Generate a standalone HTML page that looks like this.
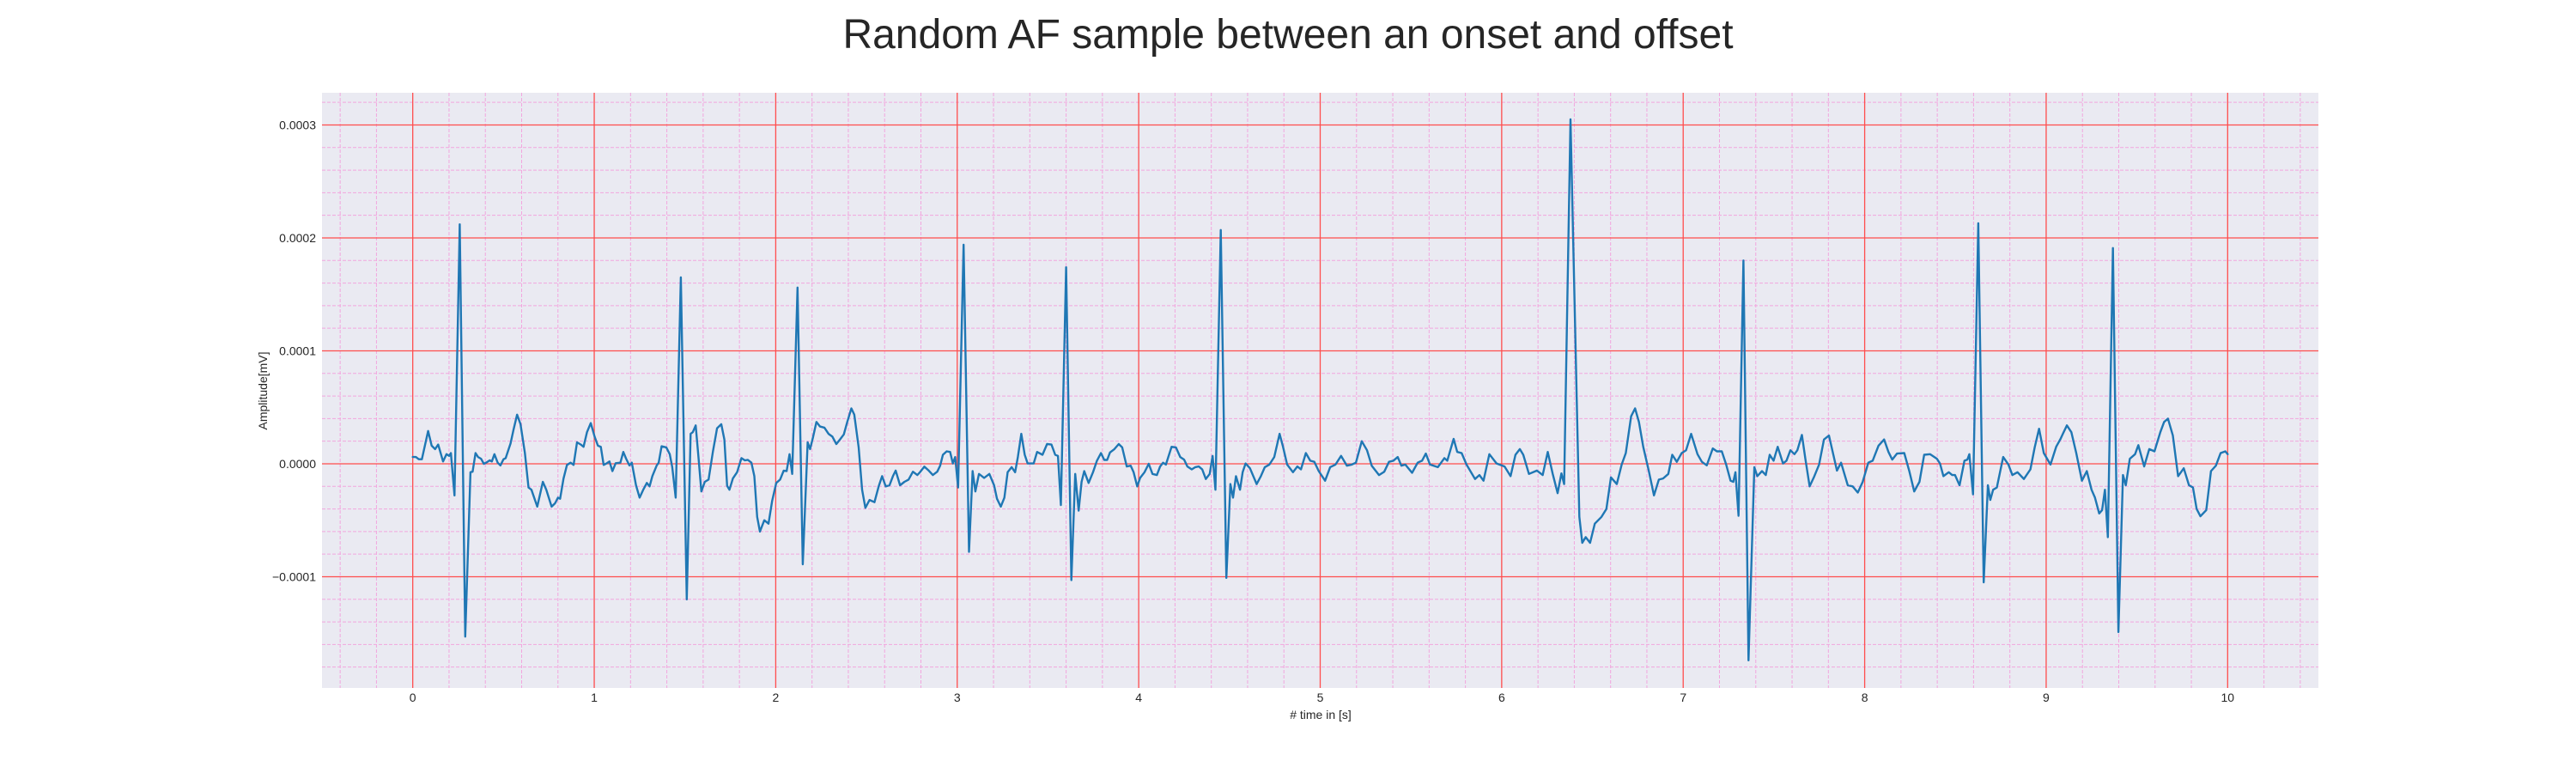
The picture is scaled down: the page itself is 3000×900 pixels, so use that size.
<!DOCTYPE html>
<html>
<head>
<meta charset="utf-8">
<style>
html,body{margin:0;padding:0;background:#fff;}
svg{display:block;font-family:"Liberation Sans",Arial,sans-serif;}
</style>
</head>
<body>
<svg id="chart" width="3000" height="900" viewBox="0 0 3000 900" xmlns="http://www.w3.org/2000/svg">
  <rect x="0" y="0" width="3000" height="900" fill="#ffffff"/>
  <text x="1500" y="56" text-anchor="middle" font-size="48" fill="#262626">Random AF sample between an onset and offset</text>
  <rect x="375" y="108" width="2325" height="693" fill="#eaeaf2"/>
  <g id="minor-grid"></g>
  <g id="major-grid"></g>
  <g id="series"></g>
  <g id="x-ticks"></g>
  <g id="y-ticks"></g>
  <text x="1538" y="837" text-anchor="middle" font-size="14" fill="#262626"># time in [s]</text>
  <text x="0" y="0" transform="translate(311,455) rotate(-90)" text-anchor="middle" font-size="14" fill="#262626">Amplitude[mV]</text>
</svg>
<script>
// Data: time in seconds, amplitude in units of 1e-4 mV
const timeSec = [0,0.017,0.033,0.05,0.085,0.104,0.123,0.14,0.167,0.186,0.2,0.21,0.23,0.259,0.289,0.318,0.33,0.346,0.36,0.376,0.392,0.404,0.424,0.436,0.45,0.468,0.483,0.5,0.512,0.539,0.555,0.575,0.594,0.618,0.638,0.654,0.686,0.717,0.736,0.765,0.784,0.8,0.812,0.831,0.85,0.87,0.886,0.905,0.926,0.941,0.96,0.981,1.002,1.02,1.036,1.052,1.07,1.084,1.1,1.118,1.144,1.16,1.176,1.194,1.207,1.23,1.25,1.27,1.29,1.305,1.32,1.344,1.355,1.371,1.397,1.416,1.43,1.449,1.477,1.51,1.531,1.543,1.559,1.575,1.59,1.609,1.63,1.654,1.677,1.7,1.717,1.732,1.745,1.764,1.787,1.811,1.83,1.846,1.866,1.882,1.898,1.913,1.937,1.96,1.98,2.003,2.024,2.044,2.06,2.076,2.091,2.12,2.149,2.176,2.189,2.205,2.224,2.244,2.268,2.291,2.312,2.334,2.354,2.375,2.394,2.417,2.433,2.457,2.476,2.494,2.517,2.544,2.567,2.586,2.606,2.627,2.646,2.661,2.685,2.709,2.732,2.756,2.78,2.795,2.819,2.843,2.866,2.89,2.906,2.921,2.942,2.961,2.976,2.989,3.005,3.035,3.065,3.085,3.1,3.12,3.148,3.177,3.203,3.219,3.24,3.26,3.278,3.3,3.319,3.334,3.353,3.372,3.388,3.421,3.44,3.47,3.495,3.519,3.54,3.555,3.571,3.6,3.629,3.65,3.669,3.685,3.7,3.724,3.748,3.77,3.792,3.81,3.826,3.842,3.866,3.89,3.909,3.934,3.956,3.972,3.992,4.008,4.032,4.055,4.076,4.1,4.118,4.134,4.15,4.181,4.205,4.229,4.25,4.268,4.292,4.312,4.331,4.35,4.37,4.391,4.407,4.423,4.452,4.483,4.505,4.52,4.536,4.558,4.573,4.589,4.613,4.65,4.673,4.695,4.72,4.747,4.776,4.795,4.818,4.85,4.874,4.894,4.921,4.945,4.968,4.992,5.027,5.055,5.084,5.115,5.147,5.174,5.197,5.229,5.258,5.284,5.324,5.353,5.379,5.403,5.427,5.447,5.469,5.506,5.537,5.561,5.582,5.605,5.648,5.684,5.7,5.735,5.755,5.779,5.806,5.853,5.877,5.9,5.932,5.972,6.016,6.049,6.076,6.1,6.119,6.15,6.194,6.226,6.254,6.281,6.308,6.329,6.344,6.379,6.428,6.444,6.463,6.487,6.513,6.55,6.577,6.602,6.634,6.661,6.684,6.713,6.735,6.756,6.78,6.81,6.839,6.866,6.889,6.918,6.94,6.965,6.992,7.016,7.044,7.079,7.103,7.13,7.163,7.186,7.213,7.237,7.261,7.276,7.288,7.305,7.332,7.36,7.392,7.408,7.434,7.455,7.477,7.498,7.521,7.55,7.569,7.591,7.613,7.629,7.654,7.673,7.697,7.72,7.749,7.776,7.803,7.823,7.847,7.87,7.907,7.934,7.962,7.989,8.02,8.044,8.076,8.107,8.131,8.152,8.178,8.218,8.245,8.273,8.302,8.328,8.36,8.398,8.415,8.434,8.463,8.482,8.498,8.523,8.55,8.566,8.577,8.597,8.626,8.656,8.679,8.692,8.708,8.728,8.763,8.792,8.814,8.842,8.877,8.913,8.937,8.961,8.987,9.024,9.055,9.079,9.092,9.114,9.139,9.166,9.197,9.224,9.25,9.269,9.292,9.308,9.324,9.34,9.368,9.398,9.423,9.439,9.461,9.49,9.508,9.54,9.568,9.597,9.629,9.65,9.671,9.698,9.727,9.758,9.787,9.809,9.829,9.85,9.882,9.908,9.935,9.961,9.987,10.0];
const ampE4 = [0.06,0.06,0.04,0.04,0.29,0.16,0.13,0.17,0.02,0.085,0.07,0.095,-0.28,2.12,-1.53,-0.075,-0.07,0.095,0.06,0.045,0,0.01,0.03,0.02,0.085,0.01,-0.015,0.04,0.05,0.18,0.3,0.435,0.35,0.095,-0.21,-0.23,-0.38,-0.16,-0.23,-0.38,-0.35,-0.3,-0.31,-0.13,-0.01,0.01,-0.01,0.19,0.17,0.15,0.28,0.36,0.24,0.16,0.15,-0.01,0.005,0.02,-0.065,0.005,0.01,0.105,0.045,-0.015,0.01,-0.19,-0.3,-0.23,-0.17,-0.2,-0.11,-0.015,0.01,0.155,0.145,0.085,-0.03,-0.3,1.65,-1.2,0.265,0.28,0.34,0.045,-0.245,-0.16,-0.14,0.11,0.315,0.35,0.215,-0.195,-0.23,-0.13,-0.075,0.05,0.03,0.035,0.01,-0.11,-0.47,-0.6,-0.5,-0.53,-0.33,-0.17,-0.14,-0.06,-0.065,0.085,-0.09,1.56,-0.89,0.19,0.13,0.23,0.37,0.33,0.32,0.265,0.24,0.175,0.215,0.26,0.37,0.49,0.435,0.145,-0.23,-0.39,-0.32,-0.34,-0.2,-0.11,-0.2,-0.19,-0.11,-0.06,-0.19,-0.16,-0.14,-0.07,-0.1,-0.075,-0.025,-0.06,-0.1,-0.07,-0.017,0.08,0.11,0.105,0.003,0.06,-0.21,1.94,-0.78,-0.065,-0.245,-0.09,-0.125,-0.09,-0.19,-0.31,-0.38,-0.3,-0.075,-0.03,-0.075,0.06,0.265,0.08,0.003,0.003,0.105,0.08,0.175,0.17,0.08,0.07,-0.365,1.74,-1.03,-0.09,-0.415,-0.16,-0.065,-0.17,-0.075,0.027,0.095,0.034,0.034,0.1,0.13,0.175,0.145,-0.024,-0.017,-0.075,-0.2,-0.125,-0.075,0,-0.09,-0.1,-0.024,0.01,-0.007,0.15,0.145,0.06,0.037,-0.024,-0.05,-0.03,-0.024,-0.05,-0.135,-0.09,0.07,-0.23,2.07,-1.01,-0.18,-0.3,-0.11,-0.23,-0.075,0.003,-0.04,-0.18,-0.11,-0.03,-0.007,0.06,0.265,0.15,-0.007,-0.075,-0.024,-0.05,0.095,0.027,0.017,-0.065,-0.15,-0.03,-0.007,0.07,-0.017,-0.007,0.01,0.2,0.12,-0.017,-0.1,-0.07,0.017,0.027,0.06,-0.017,-0.007,-0.08,0.01,0.027,0.09,-0.007,-0.03,0.05,0.027,0.22,0.105,0.095,-0.007,-0.135,-0.1,-0.15,0.085,0.003,-0.024,-0.11,0.08,0.13,0.08,-0.09,-0.06,-0.1,0.105,-0.09,-0.26,-0.085,-0.18,3.05,-0.47,-0.7,-0.65,-0.7,-0.53,-0.47,-0.4,-0.12,-0.18,-0.007,0.095,0.42,0.49,0.37,0.15,-0.06,-0.28,-0.14,-0.13,-0.09,0.08,0.017,0.095,0.12,0.265,0.085,0.017,-0.014,0.136,0.11,0.11,-0.007,-0.15,-0.16,-0.075,-0.46,1.8,-1.74,-0.03,-0.11,-0.065,-0.1,0.08,0.027,0.15,0.003,0.027,0.12,0.085,0.12,0.255,0.045,-0.2,-0.12,-0.007,0.215,0.25,0.11,-0.06,0.01,-0.19,-0.2,-0.255,-0.16,0.01,0.027,0.16,0.215,0.105,0.037,0.09,0.095,-0.06,-0.245,-0.16,0.08,0.085,0.045,0.003,-0.11,-0.075,-0.1,-0.1,-0.19,0.027,0.037,0.085,-0.27,2.13,-1.05,-0.19,-0.32,-0.23,-0.21,0.06,-0.007,-0.1,-0.075,-0.135,-0.05,0.145,0.31,0.095,-0.007,0.15,0.22,0.265,0.34,0.28,0.095,-0.15,-0.065,-0.23,-0.3,-0.44,-0.41,-0.23,-0.65,1.91,-1.49,-0.1,-0.19,0.045,0.085,0.165,-0.024,0.13,0.11,0.28,0.37,0.4,0.25,-0.11,-0.04,-0.19,-0.21,-0.4,-0.465,-0.41,-0.065,-0.017,0.095,0.11,0.085];
const xTickValues = [0,1,2,3,4,5,6,7,8,9,10];
const xTickLabels = ["0","1","2","3","4","5","6","7","8","9","10"];
const yTickValues = [-1,0,1,2,3];
const yTickLabels = ["\u22120.0001","0.0000","0.0001","0.0002","0.0003"];

const NS = "http://www.w3.org/2000/svg";
const PL = 375, PR = 2700, PT = 108, PB = 801;
const XMIN = -0.5, XMAX = 10.5, YMIN = -1.985, YMAX = 3.285;
function xs(t){ return PL + (t - XMIN) / (XMAX - XMIN) * (PR - PL); }
function ys(v){ return PB - (v - YMIN) / (YMAX - YMIN) * (PB - PT); }
function mk(tag, attrs, parent){
  const el = document.createElementNS(NS, tag);
  for (const k in attrs) el.setAttribute(k, attrs[k]);
  parent.appendChild(el);
  return el;
}
const minorG = document.getElementById("minor-grid");
const majorG = document.getElementById("major-grid");
// minor grid
for (let i = -2; i <= 52; i++) {
  const t = i * 0.2;
  if (t <= XMIN || t >= XMAX || i % 5 === 0) continue;
  const l = mk("line", {x1: xs(t), x2: xs(t), y1: PT, y2: PB, stroke: "#f2a6de", "stroke-width": 1, "stroke-dasharray": "4,2"}, minorG);
  
  
}
for (let i = -10; i <= 17; i++) {
  const v = i * 0.2;
  if (v <= YMIN || v >= YMAX || i % 5 === 0) continue;
  const l = mk("line", {x1: PL, x2: PR, y1: ys(v), y2: ys(v), stroke: "#f2a6de", "stroke-width": 1, "stroke-dasharray": "4,2"}, minorG);
  
  
}
// major grid
xTickValues.forEach(t => {
  const l = mk("line", {x1: xs(t), x2: xs(t), y1: PT, y2: PB, stroke: "#ff4d4d", "stroke-width": 1.3}, majorG);
  
  
});
yTickValues.forEach(v => {
  const l = mk("line", {x1: PL, x2: PR, y1: ys(v), y2: ys(v), stroke: "#ff4d4d", "stroke-width": 1.3}, majorG);
  
  
});
// series
let d = "";
for (let i = 0; i < timeSec.length; i++) {
  d += (i ? "L" : "M") + xs(timeSec[i]).toFixed(1) + "," + ys(ampE4[i]).toFixed(1);
}
const path = mk("path", {d: d, fill: "none", stroke: "#1f77b4", "stroke-width": 2.4, "stroke-linejoin": "round", "stroke-linecap": "round"}, document.getElementById("series"));


// tick labels
const xg = document.getElementById("x-ticks");
xTickValues.forEach((t, i) => {
  const tx = mk("text", {x: xs(t), y: 817, "text-anchor": "middle", "font-size": 14, fill: "#262626"}, xg);
  tx.textContent = xTickLabels[i];
  
  
});
const yg = document.getElementById("y-ticks");
yTickValues.forEach((v, i) => {
  const tx = mk("text", {x: 368, y: ys(v) + 5, "text-anchor": "end", "font-size": 14, fill: "#262626"}, yg);
  tx.textContent = yTickLabels[i];
  
  
});
</script>
</body>
</html>
